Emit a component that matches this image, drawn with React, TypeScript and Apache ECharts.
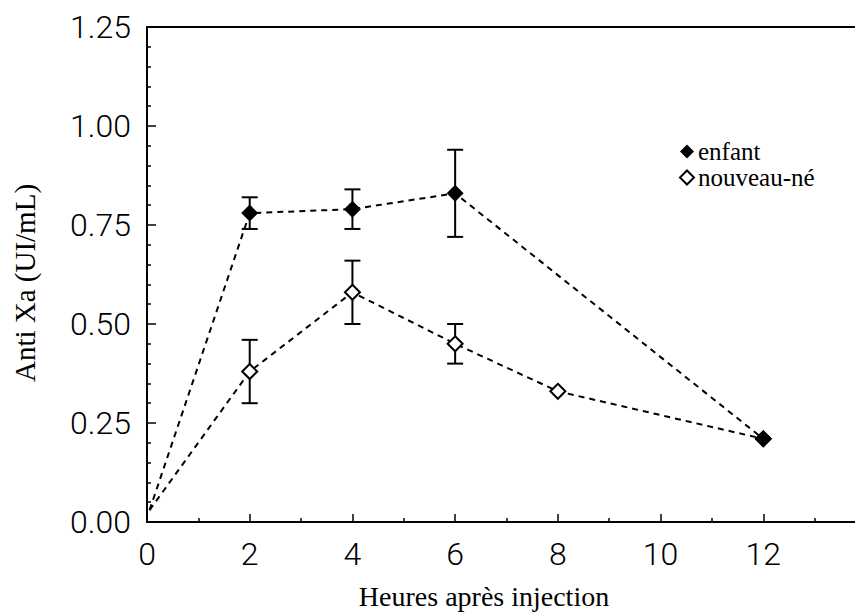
import React, { useEffect, useRef } from "react";
import * as echarts from "echarts";

const xTicks = [0, 2, 4, 6, 8, 10, 12];
const yTicks = [0, 0.25, 0.5, 0.75, 1.0, 1.25];

const enfantData: [number, number][] = [
  [0.05, 0.03],
  [2, 0.78],
  [4, 0.79],
  [6, 0.83],
  [12, 0.21],
];
const nouveauNeData: [number, number][] = [
  [0.05, 0.03],
  [2, 0.38],
  [4, 0.58],
  [6, 0.45],
  [8, 0.33],
  [12, 0.21],
];
// [x, low, high]
const enfantErr: [number, number, number][] = [
  [2, 0.74, 0.82],
  [4, 0.74, 0.84],
  [6, 0.72, 0.94],
];
const nouveauNeErr: [number, number, number][] = [
  [2, 0.3, 0.46],
  [4, 0.5, 0.66],
  [6, 0.4, 0.5],
];

const xTitle = "Heures après injection";
const yTitle = "Anti Xa (UI/mL)";
const seriesNames = ["enfant", "nouveau-né"];

const SERIF = "'Liberation Serif', 'Times New Roman', serif";
const TICKFONT = "Roboto, 'Liberation Sans', sans-serif";

function errRender(params: any, api: any) {
  const x = api.value(0);
  const lo = api.coord([x, api.value(1)]);
  const hi = api.coord([x, api.value(2)]);
  const hw = 8;
  const style = { stroke: "#000", lineWidth: 2 };
  return {
    type: "group",
    children: [
      { type: "line", shape: { x1: lo[0], y1: lo[1], x2: hi[0], y2: hi[1] }, style },
      { type: "line", shape: { x1: lo[0] - hw, y1: lo[1], x2: lo[0] + hw, y2: lo[1] }, style },
      { type: "line", shape: { x1: hi[0] - hw, y1: hi[1], x2: hi[0] + hw, y2: hi[1] }, style },
    ],
  };
}

function pts(data: [number, number][]) {
  return data.map((d, i) =>
    i === 0 ? { value: d, symbol: "none" } : { value: d }
  );
}

export default function App() {
  const ref = useRef<HTMLDivElement>(null);
  useEffect(() => {
    if (!ref.current) return;
    const chart = echarts.init(ref.current, null, { renderer: "svg" });
    const option: any = {
      animation: false,
      backgroundColor: "#fff",
      grid: { left: 147, top: 27, width: 719, height: 495, outerBoundsMode: "none", containLabel: false },
      legend: {
        data: seriesNames,
        orient: "vertical",
        left: 679,
        top: 139,
        padding: 0,
        itemWidth: 14,
        itemHeight: 14,
        itemGap: 1,
        icon: "diamond",
        textStyle: { fontFamily: SERIF, fontSize: 25, color: "#000", lineHeight: 25, padding: [0, 0, 0, -1] },
      },
      xAxis: [
        {
          type: "value",
          min: 0,
          max: 14,
          interval: 2,
          axisLine: { show: true, lineStyle: { color: "#000", width: 2 } },
          axisTick: { show: true, inside: true, length: 8, lineStyle: { color: "#000", width: 1.5 } },
          minorTick: { show: true, splitNumber: 2, length: 4, lineStyle: { color: "#000", width: 1.5 } },
          splitLine: { show: false },
          axisLabel: {
            margin: 16,
            fontFamily: TICKFONT,
            fontWeight: 300,
            fontSize: 32,
            color: "#000",
            showMaxLabel: false,
            formatter: (v: number) => (xTicks.includes(v) ? String(v) : ""),
          },
        },
        {
          type: "value",
          position: "top",
          min: 0,
          max: 14,
          axisLine: { show: true, onZero: false, lineStyle: { color: "#000", width: 2 } },
          axisTick: { show: false },
          axisLabel: { show: false },
          splitLine: { show: false },
        },
      ],
      yAxis: {
        type: "value",
        min: 0,
        max: 1.25,
        interval: 0.25,
        axisLine: { show: true, lineStyle: { color: "#000", width: 2 } },
        axisTick: { show: true, inside: true, length: 9, lineStyle: { color: "#000", width: 1.5 } },
        minorTick: { show: true, splitNumber: 5, length: 4, lineStyle: { color: "#000", width: 1.5 } },
        splitLine: { show: false },
        axisLabel: {
          margin: 16,
          fontFamily: TICKFONT,
          fontWeight: 300,
          fontSize: 32,
          color: "#000",
          formatter: (v: number) => {
            const t = yTicks.find((k) => Math.abs(k - v) < 1e-9);
            return t === undefined ? "" : t.toFixed(2);
          },
        },
      },
      series: [
        {
          name: "errNN",
          type: "custom",
          renderItem: errRender,
          data: nouveauNeErr,
          encode: { x: 0, y: [1, 2] },
          z: 2,
        },
        {
          name: "errE",
          type: "custom",
          renderItem: errRender,
          data: enfantErr,
          encode: { x: 0, y: [1, 2] },
          z: 2,
        },
        {
          name: seriesNames[1],
          type: "line",
          data: pts(nouveauNeData),
          symbol: "diamond",
          symbolSize: 15,
          showAllSymbol: true,
          lineStyle: { color: "#000", width: 2, type: [6, 5] },
          itemStyle: { color: "#fff", borderColor: "#000", borderWidth: 2 },
          z: 3,
        },
        {
          name: seriesNames[0],
          type: "line",
          data: pts(enfantData),
          symbol: "diamond",
          symbolSize: 17,
          showAllSymbol: true,
          lineStyle: { color: "#000", width: 2, type: [6, 5] },
          itemStyle: { color: "#000", borderColor: "#000", borderWidth: 0 },
          z: 4,
        },
      ],
      graphic: [
        {
          type: "text",
          x: 484,
          y: 596,
          style: {
            text: xTitle,
            fontFamily: SERIF,
            fontSize: 28,
            fill: "#000",
            align: "center",
            verticalAlign: "middle",
          },
        },
        {
          type: "text",
          x: 25,
          y: 283,
          rotation: Math.PI / 2,
          style: {
            text: yTitle,
            fontFamily: SERIF,
            fontSize: 29,
            fill: "#000",
            align: "center",
            verticalAlign: "middle",
          },
        },
      ],
    };
    chart.setOption(option);
    return () => chart.dispose();
  }, []);
  return (
    <div
      ref={ref}
      style={{ position: "fixed", left: 0, top: 0, width: 855, height: 615, background: "#fff" }}
    />
  );
}
